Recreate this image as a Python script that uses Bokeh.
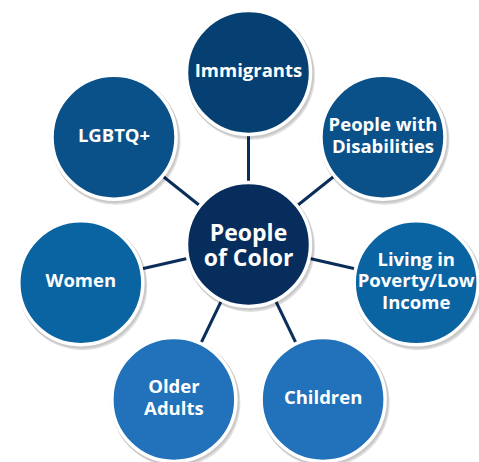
import math
from bokeh.plotting import figure
from bokeh.models import Range1d, ColumnDataSource
from bokeh.core.properties import value
from bokeh.embed import file_html
from bokeh.resources import INLINE

# ---- data ----
center_label = ["People\nof Color"]
center_color = ["#062d5c"]
labels = ["Immigrants", "People with\nDisabilities", "Living in\nPoverty/Low\nIncome",
          "Children", "Older\nAdults", "Women", "LGBTQ+"]
colors = ["#063f71", "#0a5189", "#0b64a2", "#2172bb", "#2172bb", "#0b64a2", "#0a5189"]

# ---- layout (pixel-like coords, y downward) ----
W, H = 479, 462
CX, CY = 248, 244
DIST = 172
R = 62
n = len(labels)
xs, ys = [], []
for i in range(n):
    a = math.radians(90 - i * 360.0 / n)
    xs.append(CX + DIST * math.cos(a))
    ys.append(CY - DIST * math.sin(a))

p = figure(width=W, height=H, output_backend="svg", toolbar_location=None,
           x_range=Range1d(0, W), y_range=Range1d(H, 0), min_border=0)
p.axis.visible = False
p.grid.visible = False
p.outline_line_color = None
p.background_fill_color = "white"

# connectors
p.segment(x0=[CX] * n, y0=[CY] * n, x1=xs, y1=ys, line_color="#0a2d5a", line_width=3)

allx = xs + [CX]
ally = ys + [CY]
allc = colors + center_color
# shadows
p.circle(x=[x + 2 for x in allx], y=[y + 3 for y in ally], radius=R + 2.5,
         fill_color="#000000", fill_alpha=0.12, line_color=None)
p.circle(x=[x + 1 for x in allx], y=[y + 1.5 for y in ally], radius=R + 2.5,
         fill_color="#000000", fill_alpha=0.10, line_color=None)
# circles
p.circle(x=allx, y=ally, radius=R, fill_color=allc, line_color="white", line_width=3.5)

src = ColumnDataSource(dict(x=xs, y=ys, t=labels))
p.text(x="x", y="y", text="t", source=src, text_color="white", y_offset=-3,
       text_font=value("Open Sans"), text_font_style="bold", text_font_size="18.5px",
       text_align="center", text_baseline="middle", text_line_height=0.86)
p.text(x=[CX], y=[CY], text=center_label, text_color="white",
       text_font=value("Open Sans"), text_font_style="bold", text_font_size="23px",
       text_align="center", text_baseline="middle", text_line_height=0.8)

open("out.html", "w").write(file_html(p, INLINE))
